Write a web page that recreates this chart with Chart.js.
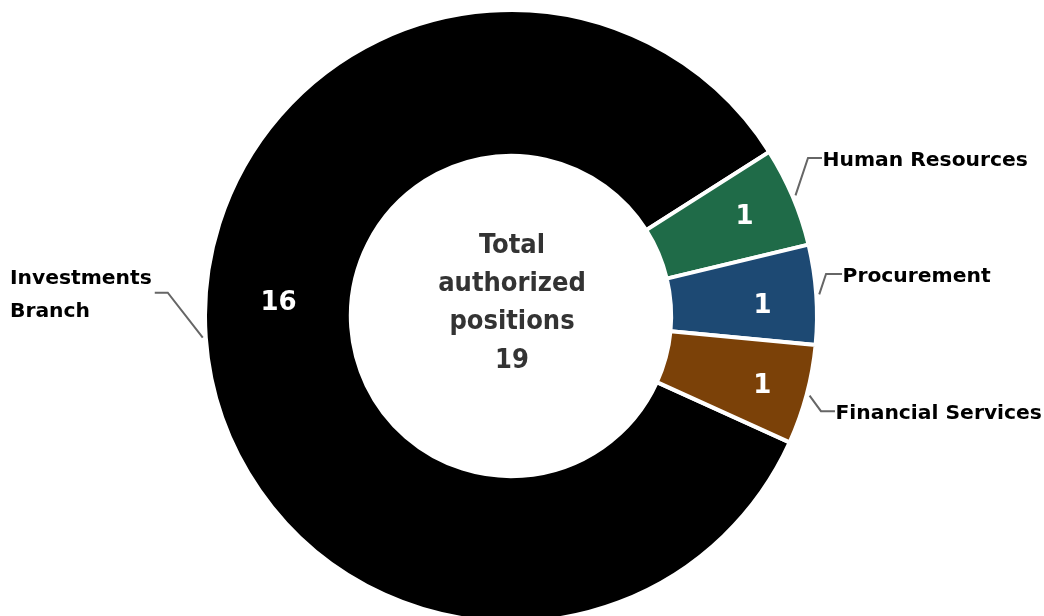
<!DOCTYPE html>
<html><head><meta charset="utf-8">
<script src="https://cdn.jsdelivr.net/npm/chart.js@4"></script>
<style>html,body{margin:0;padding:0;background:#fff;} #wrap{width:1044px;height:616px;position:relative;}</style>
</head><body><div id="wrap"><canvas id="c"></canvas></div>
<script>
const categories = [["Investments", "Branch"], "Human Resources", "Procurement", "Financial Services"];
const positions = [16, 1, 1, 1];
const colors = ["#000000", "#1f6b48", "#1d4973", "#7b4108"];
const centerTitle = ["Total", "authorized", "positions"];
const totalPositions = positions.reduce((a, b) => a + b, 0);

const labelPlugin = {
  id: 'donutLabels',
  afterDatasetsDraw(chart, args, opts) {
    const ctx = chart.ctx;
    const meta = chart.getDatasetMeta(0);
    const ds = chart.data.datasets[0];
    let cx = 0, cy = 0;
    meta.data.forEach((arc, i) => {
      const p = arc.getProps(['x', 'y', 'startAngle', 'endAngle', 'outerRadius'], true);
      cx = p.x; cy = p.y;
      const mid = (p.startAngle + p.endAngle) / 2;
      ctx.save();
      // value label
      const tp = arc.tooltipPosition(true);
      const vo = opts.valueOffsets[i];
      ctx.fillStyle = '#ffffff';
      ctx.font = 'bold 26px "DejaVu Sans"';
      ctx.textAlign = 'center';
      ctx.textBaseline = 'middle';
      ctx.fillText(String(ds.data[i]), tp.x + vo[0], tp.y + vo[1]);
      // leader line
      const L = opts.leaders[i];
      const r = p.outerRadius - 2 + L.gap;
      const ax = p.x + Math.cos(mid) * r, ay = p.y + Math.sin(mid) * r;
      const ex = ax + L.dx, ey = ay + L.dy;
      const hx = ex + L.h;
      ctx.strokeStyle = '#666666';
      ctx.lineWidth = 2;
      ctx.beginPath();
      ctx.moveTo(ax, ay); ctx.lineTo(ex, ey); ctx.lineTo(hx, ey);
      ctx.stroke();
      // category label
      const label = chart.data.labels[i];
      const lines = Array.isArray(label) ? label : [label];
      ctx.fillStyle = '#000000';
      ctx.font = 'bold 20.3px "DejaVu Sans"';
      ctx.textAlign = 'left';
      ctx.textBaseline = 'alphabetic';
      const lh = 33;
      let tx;
      if (L.h >= 0) {
        tx = hx + 0.5;
      } else {
        const mw = Math.max(...lines.map(t => ctx.measureText(t).width));
        tx = hx - 3 - mw;
      }
      lines.forEach((t, k) => {
        ctx.fillText(t, tx, ey + 8 - (lines.length - 1) * lh / 2 + k * lh);
      });
      ctx.restore();
    });
    // center text
    ctx.save();
    ctx.fillStyle = '#333333';
    ctx.font = 'bold 27px "DejaVu Sans Condensed", "Liberation Sans", sans-serif';
    ctx.textAlign = 'center';
    ctx.textBaseline = 'alphabetic';
    const cl = centerTitle.concat([String(totalPositions)]);
    cl.forEach((t, k) => {
      ctx.fillText(t, cx + 1, cy - 63 + k * 38.2);
    });
    ctx.restore();
  }
};

new Chart(document.getElementById('c'), {
  type: 'doughnut',
  data: {
    labels: categories,
    datasets: [{
      data: positions,
      backgroundColor: colors,
      borderColor: '#ffffff',
      borderWidth: 4,
      hoverOffset: 0,
      radius: 306,
      cutout: 156
    }]
  },
  options: {
    responsive: true,
    maintainAspectRatio: false,
    animation: false,
    rotation: 114.4,
    layout: { padding: { top: 16, bottom: 0, left: 0, right: 22 } },
    plugins: {
      legend: { display: false },
      tooltip: { enabled: false },
      donutLabels: {
        valueOffsets: [[0, -29], [19, -8], [19, 7], [26, 10]],
        leaders: [
          { gap: 5, dx: -35, dy: -45, h: -13 },
          { gap: 5, dx: 12.5, dy: -37.4, h: 14 },
          { gap: 5, dx: 6.8, dy: -20.4, h: 16 },
          { gap: 5, dx: 11.4, dy: 15.6, h: 14 }
        ]
      }
    }
  },
  plugins: [labelPlugin]
});
</script>
</body></html>
